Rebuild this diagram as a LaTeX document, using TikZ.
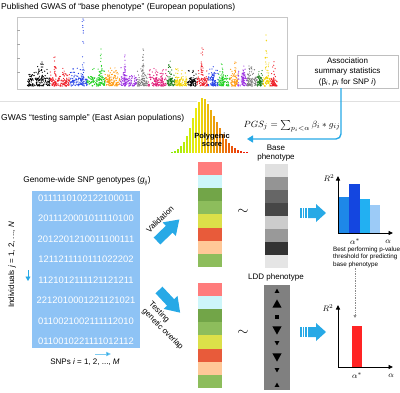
\documentclass[tikz,border=0pt]{standalone}
\usepackage{fontspec}
\setmainfont{Liberation Sans}
\usetikzlibrary{arrows.meta}

\definecolor{arrowblue}{HTML}{27A9E6}
\definecolor{gridblue}{HTML}{8EC3F5}
\definecolor{manred}{HTML}{EE1C25}
\definecolor{manblue}{HTML}{2340E6}
\definecolor{mangreen}{HTML}{22D022}
\definecolor{manorange}{HTML}{FF9A10}
\definecolor{manpurple}{HTML}{9B30E0}
\definecolor{mangray}{HTML}{7A7A7A}
\definecolor{manmag}{HTML}{E0207A}
\definecolor{mandkgreen}{HTML}{137A13}
\definecolor{manyellow}{HTML}{F2D200}
\definecolor{rowpink}{HTML}{FF7C7C}
\definecolor{rowcyan}{HTML}{CDF6FA}
\definecolor{rowgreen}{HTML}{72A548}
\definecolor{rowlgreen}{HTML}{8DBD5C}
\definecolor{rowyellow}{HTML}{DCE049}
\definecolor{roworange}{HTML}{E85B3A}
\definecolor{rowpeach}{HTML}{FFC898}
\definecolor{barA}{HTML}{1E88E8}
\definecolor{barB}{HTML}{1446E0}
\definecolor{barC}{HTML}{22B0F2}
\definecolor{barD}{HTML}{9CCBF7}
\definecolor{barred}{HTML}{FF2424}

\tikzset{
  stripe arrow/.pic={
    \foreach \sx in {0,2.7,5.4} \fill[arrowblue] (\sx,-5) rectangle ++(1.6,10);
    \fill[arrowblue] (8.1,-5) -- (16,-5) -- (16,-9) -- (26,0) -- (16,9) -- (16,5) -- (8.1,5) -- cycle;
  },
  block arrow/.pic={
    \fill[arrowblue] (0,-4.8) -- (17,-4.8) -- (17,-9.5) -- (31,0) -- (17,9.5) -- (17,4.8) -- (0,4.8) -- cycle;
  },
  axisarrow/.style={line width=0.9pt,-{Triangle[length=4.5pt,width=4pt]}},
  digits/.style={white,font=\fontsize{9.4}{10}\selectfont,inner sep=0},
  small/.style={font=\fontsize{8}{9.5}\selectfont},
  mathlbl/.style={font=\fontsize{8}{9}\selectfont,inner sep=0},
}

\begin{document}
\begin{tikzpicture}[x=1pt,y=-1pt,font=\fontsize{8.5}{10}\selectfont]
\useasboundingbox (0,0) rectangle (400,392);

% published GWAS (manhattan plot)
\node[anchor=west,inner sep=0] (title) at (1,7) {Published GWAS of ``base phenotype'' (European populations)};
\draw[black!22] (17,17) rectangle (287,89);
\foreach \ty in {30,44,58,72} \draw[black!35] (17,\ty) -- (19.5,\ty);
\pgfmathsetseed{42}
\foreach \xa/\xb/\col/\px/\py in {27/50/black/42/62, 50/70/manred/55/57, 70/87/manblue/83/19,
    87/105/mangreen/101/49, 105/120/manorange/109/75, 120/137/manpurple/125/55,
    137/148/mangray/143/49, 148/167/manmag/156/70, 167/175/mandkgreen/171/74,
    175/187/manyellow/180/80, 187/197/black/191/78, 197/208/manred/202/48,
    208/218/manblue/213/74, 218/230/mangreen/223/76, 230/238/manorange/235/62,
    238/247/manpurple/243/70, 247/257/mangray/249/66, 257/263/mandkgreen/260/77,
    263/270/manyellow/266/35, 270/277/manred/273/80}{
  \pgfmathtruncatemacro{\nd}{6*(\xb-\xa)}
  \foreach \k in {1,...,\nd}{
    \pgfmathsetmacro{\dx}{\xa+rnd*(\xb-\xa)}
    \pgfmathsetmacro{\dy}{86-8*rnd^1.5-12*rnd^6}
    \fill[\col] (\dx,\dy) circle[radius=0.65pt];
  }
  % minor peak
  \pgfmathsetmacro{\mx}{\xa+(\xb-\xa)*(0.2+0.6*rnd)}
  \pgfmathsetmacro{\my}{70-12*rnd}
  \foreach \k in {1,...,9}{
    \pgfmathsetmacro{\dx}{\mx+1*rand}
    \pgfmathsetmacro{\dy}{\my+(86-\my)*rnd}
    \fill[\col] (\dx,\dy) circle[radius=0.6pt];
  }
  % main peak
  \foreach \k in {1,...,22}{
    \pgfmathsetmacro{\dx}{\px+1.1*rand}
    \pgfmathsetmacro{\dy}{\py+(86-\py)*rnd^0.8}
    \fill[\col] (\dx,\dy) circle[radius=0.6pt];
  }
  \fill[\col] (\px,\py) circle[radius=0.7pt];
}

\node[draw=black!25,align=center,minimum width=101pt,minimum height=33pt,inner sep=1pt,
  font=\fontsize{8}{10.5}\selectfont] (assoc) at (347.5,71.5)
  {Association\\summary statistics\\(β\textsubscript{\textit{i}}, \textit{p}\textsubscript{\textit{i}} for SNP \textit{i})};
\draw[black!12] (0,101) -- (400,101);

% testing sample
\node[anchor=west,inner sep=0] (testing) at (1,118) {GWAS ``testing sample'' (East Asian populations)};
\foreach \h [count=\i from 0] in {1,2,3,5,8,12,18,26,36,46,52,56,55,50,44,38,32,26,20,15,11,8,6,4,3,2,1.5,1}{
  \pgfmathsetmacro{\hue}{0.25*(1-\i/27)}
  \definecolor{histcol}{hsb}{\hue,0.95,0.92}
  \fill[histcol,draw=white,line width=0.2pt] (167+3*\i,153) rectangle ++(3,-\h);
}
\node[font=\bfseries\fontsize{7.5}{8.5}\selectfont,align=center,inner sep=0] (pgs) at (212,140) {Polygenic\\score};
\node[font=\fontsize{9.5}{10}\selectfont] (pgsformula) at (292,126) {$PGS_j=\sum_{p_i<\alpha}\beta_i*g_{ij}$};
\coordinate (histin) at (247,139);
\draw[arrowblue,line width=1.4pt,rounded corners=5pt,-{Triangle[length=6pt,width=7pt]}]
  ([xshift=-6.5pt]assoc.south) |- (histin);

% score columns
\foreach \c [count=\i from 0] in {rowpink,rowcyan,rowgreen,rowlgreen,rowyellow,roworange,rowpeach,rowlgreen}{
  \fill[\c] (198,162+13.1*\i) rectangle ++(24,13.1);
  \fill[\c] (198,283+13.1*\i) rectangle ++(24,13.1);
}
\node[font=\bfseries\fontsize{14}{14}\selectfont] (tildeA) at (243,212) {$\sim$};
\node[font=\bfseries\fontsize{14}{14}\selectfont] (tildeB) at (243,333) {$\sim$};

% phenotypes
\node[small,align=center] (basepheno) at (276,153) {Base\\phenotype};
\foreach \g [count=\i from 0] in {12,42,60,72,20,40,80,10}
  \fill[black!\g] (265,164+13*\i) rectangle ++(23,13);
\node[small] (lddpheno) at (276,277) {LDD phenotype};
\fill[black!50] (264,285) rectangle (290,390);
\foreach \y/\d/\s in {291/1/2.4,304/1/4.6,330/-1/4.6,343/-1/2.4,357/-1/4.6,370/-1/2.4,385/1/2.4}
  \fill (277-\s,\y+\d*0.8*\s) -- (277+\s,\y+\d*0.8*\s) -- (277,\y-\d*\s) -- cycle;
\fill (275.2,315.2) rectangle (278.8,318.8);

\pic at (300,213) {stripe arrow};
\pic at (300,332) {stripe arrow};

% R^2 charts
\coordinate (oA) at (338,233);
\coordinate (yA) at (338,176);
\coordinate (xA) at (393,233);
\fill[barA] (339,197) rectangle (349,233);
\fill[barB] (349,184) rectangle (360,233);
\fill[barC] (360,199) rectangle (370,233);
\fill[barD] (370,205) rectangle (380,233);
\draw[axisarrow] (oA) -- (yA);
\draw[axisarrow] (oA) -- (xA);
\node[mathlbl] (rA) at (329,178) {$R^2$};
\node[mathlbl] (astarA) at (355,242) {$\alpha^*$};
\node[mathlbl] (alphaA) at (388,242) {$\alpha$};
\node[anchor=north west,align=left,inner sep=0,font=\fontsize{6.3}{7.2}\selectfont] (bestnote) at (333,247)
  {Best performing p-value\\threshold for predicting\\base phenotype};

\coordinate (oB) at (338,367);
\coordinate (yB) at (338,305);
\coordinate (xB) at (393,367);
\fill[barred] (352,326) rectangle (362,367);
\draw[axisarrow] (oB) -- (yB);
\draw[axisarrow] (oB) -- (xB);
\node[mathlbl] (rB) at (328,308) {$R^2$};
\node[mathlbl] (astarB) at (357,376) {$\alpha^*$};
\node[mathlbl] (alphaB) at (391,376) {$\alpha$};
\coordinate (redtop) at (355,318);
\draw[densely dotted,black!45,line width=0.7pt,-{Triangle[length=3pt,width=3pt]}] (bestnote.south -| redtop) -- (redtop);

% genotype matrix
\node[font=\fontsize{8.3}{10}\selectfont] (genolbl) at (87,181) {Genome-wide SNP genotypes (\textit{g}\textsubscript{\textit{ij}})};
\fill[gridblue] (32,191) rectangle (140,348);
\foreach \row [count=\i from 0] in {0111110102122100011,2011120001011110100,2012201210011100111,
    1211211110111022202,1121012111121121211,2212010001221121021,0110021002111112010,0110010221111012112}
  \node[digits] (row\i) at (86,198+20.5*\i) {\row};
\node[small,rotate=90] (indiv) at (12,265) {Individuals \textit{j} = 1, 2, ..., \textit{N}};
\coordinate (jA) at (28,270);
\coordinate (jB) at (28,281);
\draw[arrowblue,line width=0.8pt,-{Triangle[length=4.5pt,width=5pt]}] (jA) -- (jB);
\node[small] (snps) at (85,362) {SNPs \textit{i} = 1, 2, ..., \textit{M}};
\coordinate (iA) at (95,354);
\coordinate (iB) at (111,354);
\draw[arrowblue!60,line width=0.6pt,-{Triangle[length=5pt,width=4.5pt,fill=arrowblue]}] (iA) -- (iB);

% validation / testing
\pic[rotate=44] at (157,241) {block arrow};
\pic[rotate=-47] at (159,290) {block arrow};
\node[small,rotate=44] (valid) at (160,219) {Validation};
\node[small,rotate=-45,align=left] (overlap) at (166,326) {Testing\\genetic overlap};
\end{tikzpicture}
\end{document}
